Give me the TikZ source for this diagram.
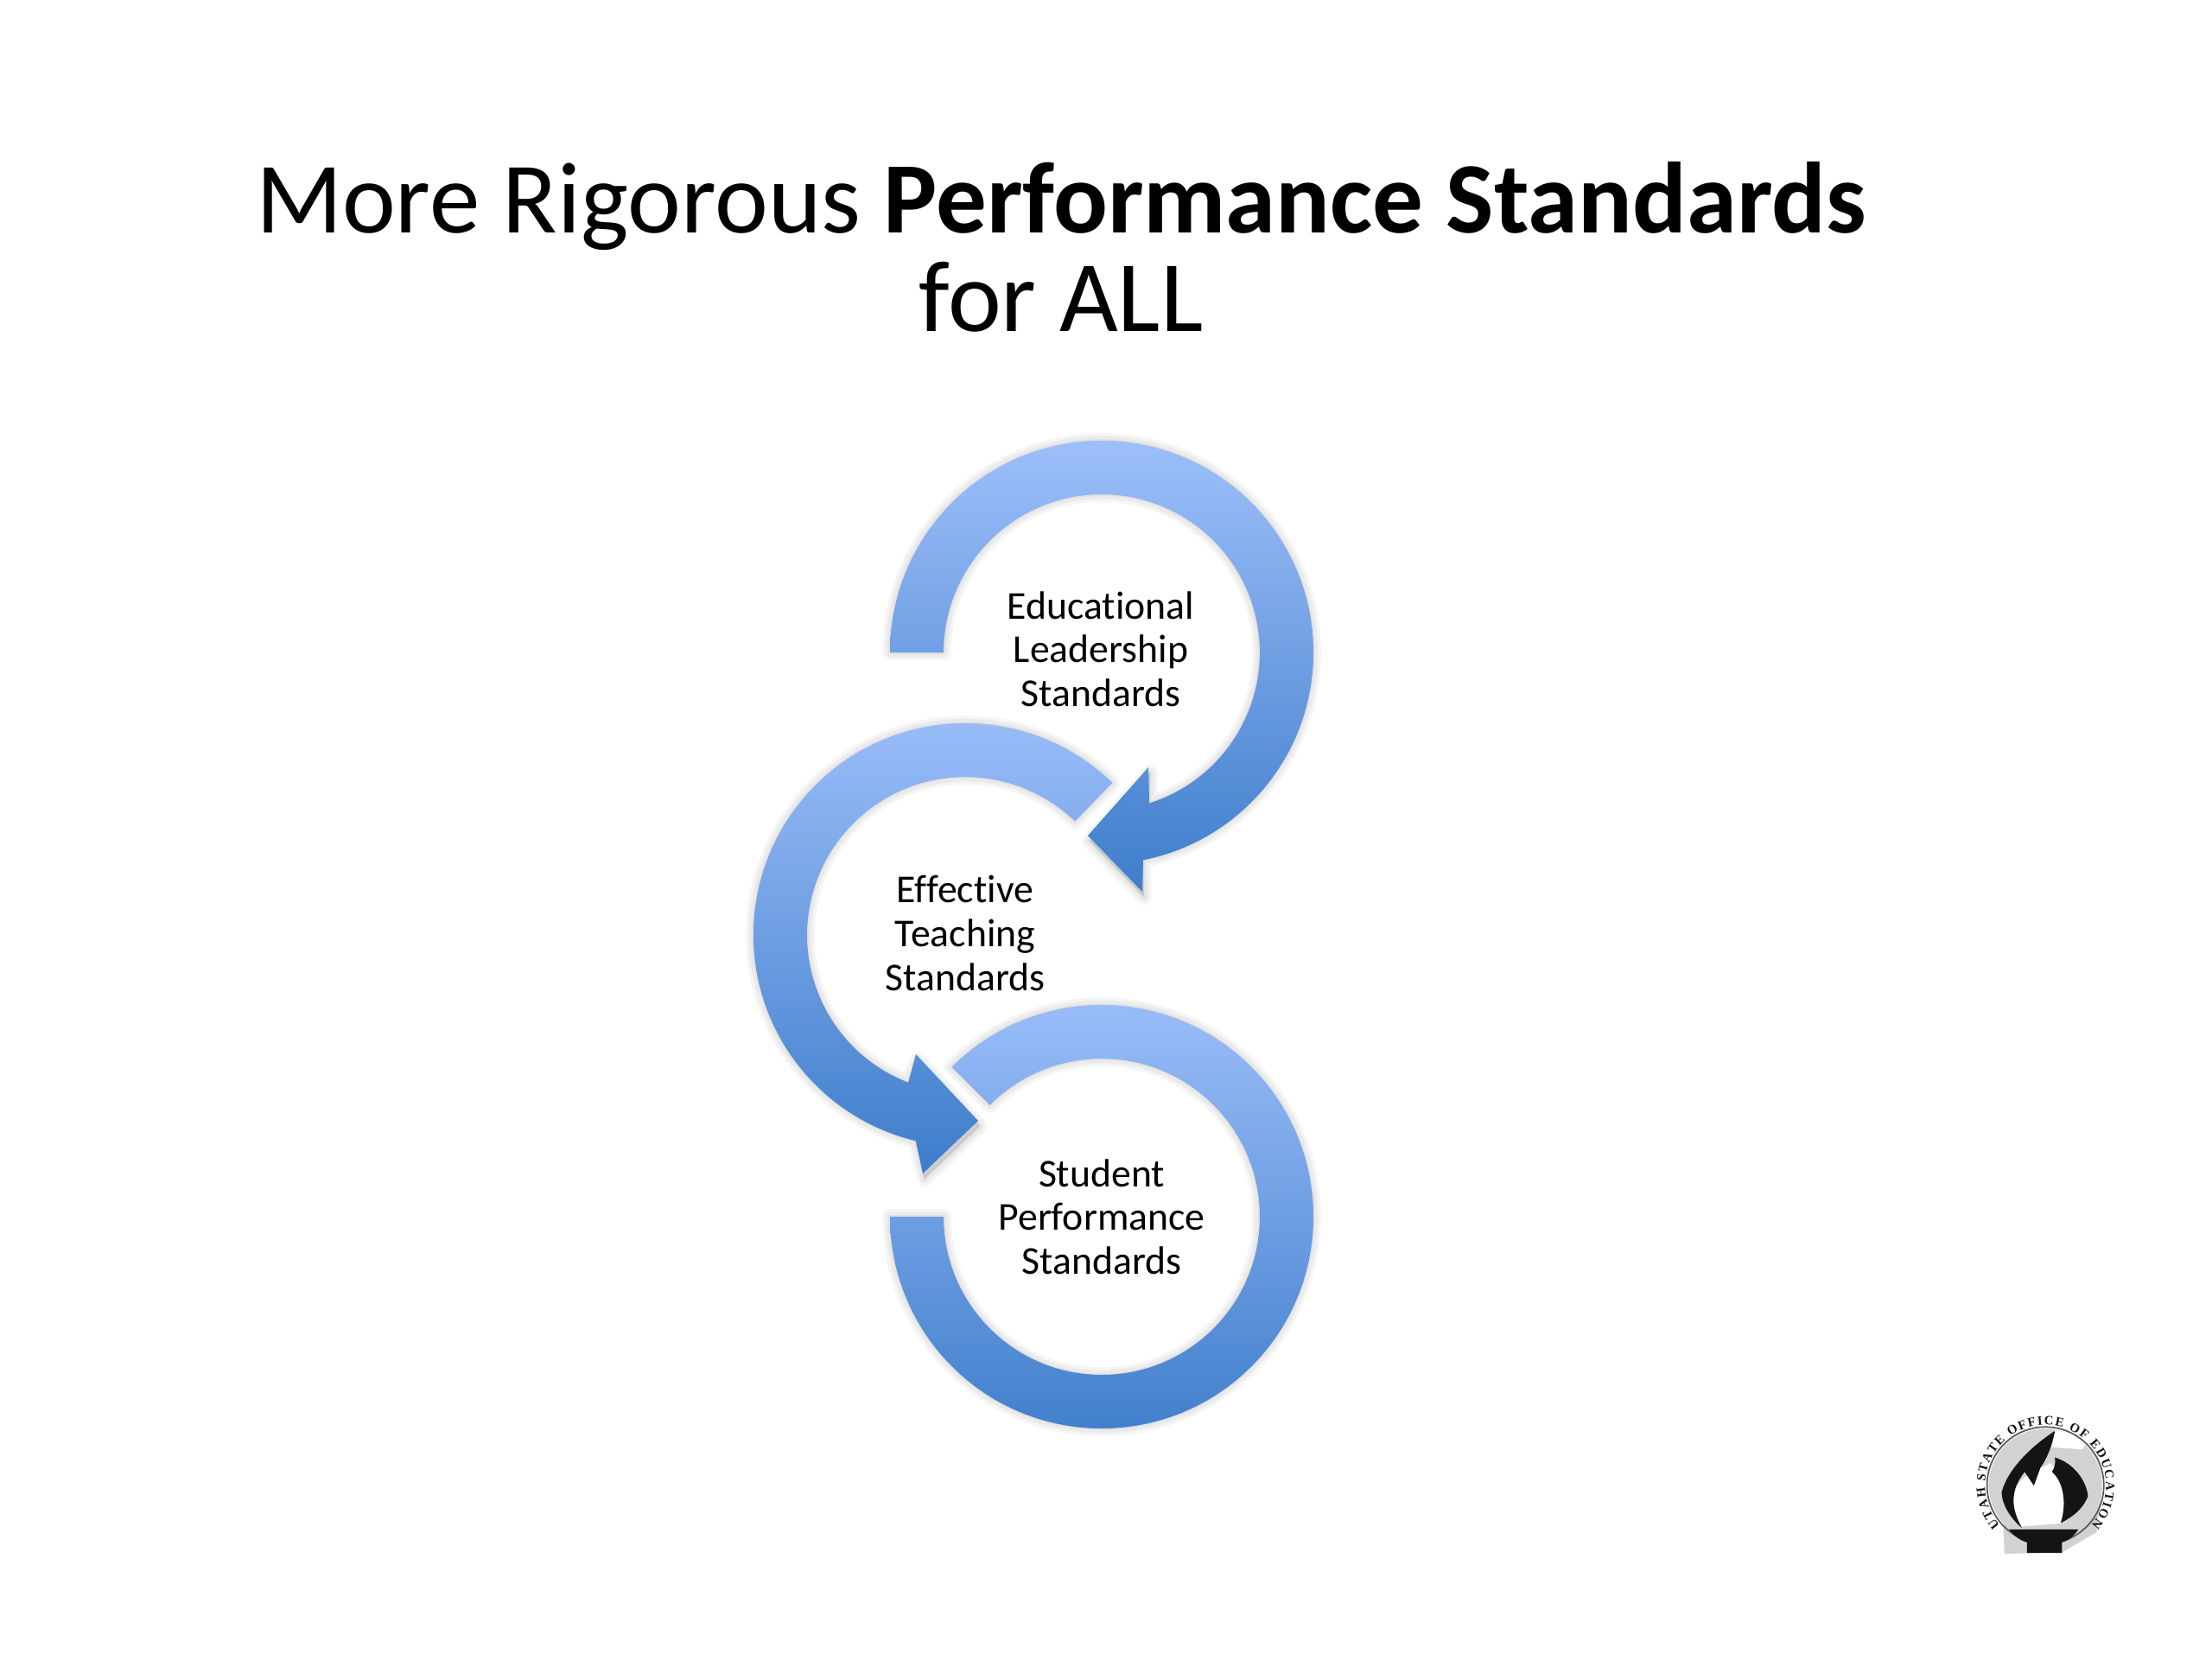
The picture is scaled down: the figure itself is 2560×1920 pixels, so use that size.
\documentclass[tikz,border=0pt]{standalone}
\usepackage{fontspec}
\setmainfont{Carlito}[Ligatures=NoCommon]
\newfontfamily\logofont{Liberation Serif}
\usetikzlibrary{decorations.text,calc}
\definecolor{arctop}{HTML}{9DBFFA}
\definecolor{arcbot}{HTML}{3E7DCB}
\definecolor{logogray}{HTML}{D2D2D2}
\definecolor{logoink}{HTML}{141414}
\tikzset{
  arcband/.style={top color=arctop,bottom color=arcbot,draw=none},
  softedge/.style={fill=black,draw=black,line join=round,opacity=0.04,line width=#1},
  circlabel/.style={font=\fontsize{13}{14.4}\selectfont,align=center,text=black,inner sep=0pt},
  titletext/.style={font=\fontsize{33.3}{32.4}\selectfont,align=center,text=black,inner sep=0pt},
  logoblack/.style={fill=logoink,draw=none}
}
\newcommand{\softshadow}[1]{%
  \foreach \w in {5,3,1}{\path[softedge=\w,shift={(2,-6)}] #1;}%
}
\begin{document}
\begin{tikzpicture}[x=0.01cm,y=0.01cm]
\useasboundingbox (0,0) rectangle (2560,-1920);
\fill[white] (0,0) rectangle (2560,-1920);
\coordinate (c1) at (1275,-755);
\coordinate (c2) at (1117,-1082);
\coordinate (c3) at (1275,-1408);
\def\ringA{($(c1)+(180:245)$) arc[start angle=180,end angle=-78.7,radius=245]
  -- (1322,-1032) -- (1259,-967) -- (1329,-888)
  -- ($(c1)+(-72.5:183)$) arc[start angle=-72.5,end angle=180,radius=183] -- cycle}
\def\ringB{($(c2)+(46:245)$) arc[start angle=46,end angle=256.5,radius=245]
  -- (1068,-1358) -- (1132,-1297) -- (1060,-1220)
  -- ($(c2)+(248.9:183)$) arc[start angle=248.9,end angle=46,radius=183] -- cycle}
\def\ringC{($(c3)+(135:245)$) arc[start angle=135,end angle=-180,radius=245]
  -- ($(c3)+(180:183)$) arc[start angle=-180,end angle=135,radius=183] -- cycle}
\softshadow{\ringA}
\softshadow{\ringB}
\softshadow{\ringC}
\path[arcband] \ringA;
\path[arcband] \ringB;
\path[arcband] \ringC;
% texts
\node[titletext] (title) at (1228,-286) {More Rigorous \textbf{Performance Standards}\\for ALL};
\node[circlabel] (lab1) at (1274,-751) {Educational\\Leadership\\Standards};
\node[circlabel] (lab2) at (1117,-1080) {Effective\\Teaching\\Standards};
\node[circlabel] (lab3) at (1275,-1408) {Student\\Performance\\Standards};
% logo
\coordinate (lc) at (2367.3,-1719);
\begin{scope}[shift={(2260,-1620)},x=0.003333cm,y=-0.003333cm]
  \fill[logogray] (322,297) circle[radius=197];
  \fill[logogray] (175,440) -- (180,535) -- (380,530) -- (500,460) -- (515,330) -- (450,170) -- cycle;
  \fill[white] (355,105) -- (470,130) -- (452,172) -- (345,165) -- cycle;
  \draw[logoink!70,line width=0.5] (322,297) circle[radius=203];
  \fill[white] (205,340) .. controls (215,270) and (300,240) .. (340,220)
     .. controls (385,280) and (395,370) .. (375,430) -- (240,440) .. controls (220,410) and (205,380) .. (205,340) -- cycle;
  \path[logoblack] (355,108) .. controls (290,150) and (195,230) .. (170,320)
     .. controls (170,370) and (210,420) .. (240,445)
     .. controls (205,380) and (195,320) .. (250,250)
     -- (282,298) -- (305,235) .. controls (325,210) and (345,160) .. (355,108) -- cycle;
  \path[logoblack] (355,200) .. controls (420,220) and (465,280) .. (470,335)
     .. controls (450,385) and (410,410) .. (375,428)
     .. controls (395,370) and (390,290) .. (345,250) .. controls (355,235) and (358,220) .. (355,200) -- cycle;
  \path[logoblack] (195,450) -- (437,450) .. controls (420,475) and (400,490) .. (380,495)
     -- (380,532) -- (258,532) -- (258,495) .. controls (235,490) and (210,470) .. (195,450) -- cycle;
\end{scope}
\path[decorate,decoration={text along path,text align=fit to path,
   text={|\logofont\bfseries\fontsize{4.2}{5}\selectfont\color{logoink}|UTAH STATE OFFICE OF EDUCATION}}]
   ($(lc)+(221:70)$) arc[start angle=221,end angle=-41,radius=70];
\end{tikzpicture}
\end{document}
